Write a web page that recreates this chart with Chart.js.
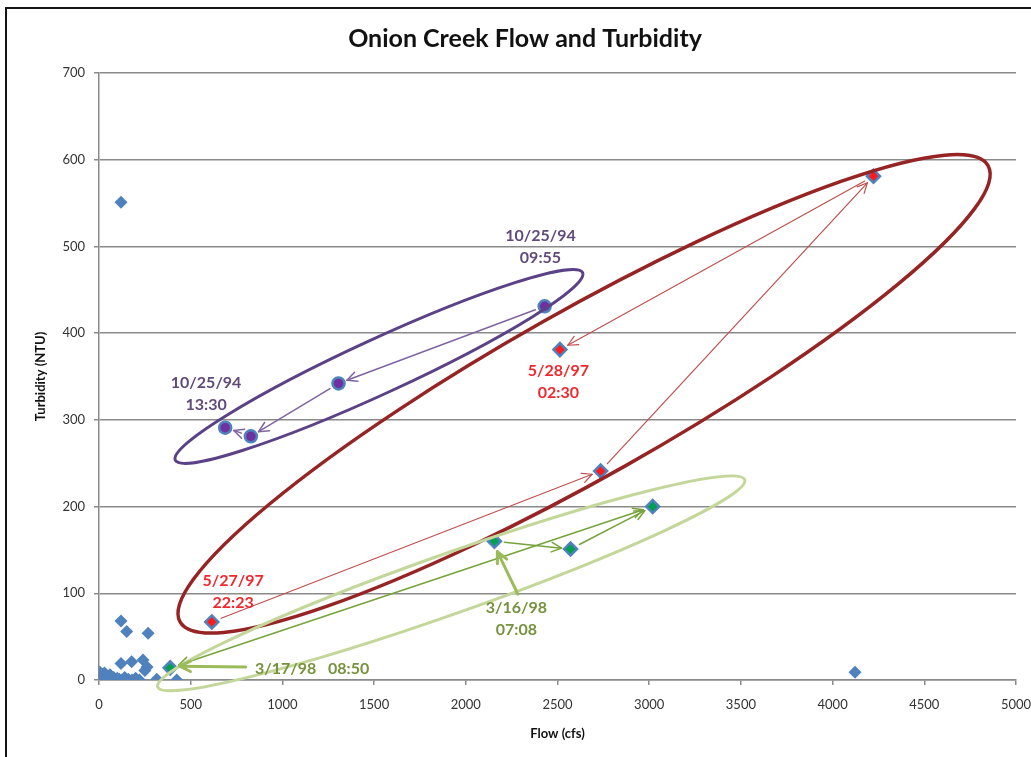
<!DOCTYPE html>
<html>
<head>
<meta charset="utf-8">
<script src="https://cdn.jsdelivr.net/npm/chart.js@4.4.1/dist/chart.umd.min.js"></script>
<style>
  html, body { margin: 0; padding: 0; background: #ffffff; }
  #wrap { position: relative; width: 1031px; height: 757px; overflow: hidden; }
  #frame { position: absolute; left: 5px; top: 7px; width: 1040px; height: 770px;
           border-top: 2px solid #151515; border-left: 2px solid #151515; pointer-events: none; }
  canvas { display: block; }
</style>
</head>
<body>
<div id="wrap">
  <canvas id="c" width="1031" height="757"></canvas>
  <div id="frame"></div>
</div>
<script>
// ---------------- DATA ----------------
const xTickValues = [0, 500, 1000, 1500, 2000, 2500, 3000, 3500, 4000, 4500, 5000];
const yTickValues = [0, 100, 200, 300, 400, 500, 600, 700];

// background observations (blue diamonds)
const bgFlow = [0, 8, 15, 22, 30, 38, 45, 55, 62, 70, 80, 90, 100, 110, 125, 140, 160, 180, 200, 220, 5, 30, 60,
                120, 178, 240, 262, 250, 315, 424, 120, 151, 268, 120, 4122];
const bgTurb = [0, 3, 1, 6, 0, 4, 2, 0, 5, 1, 3, 0, 2, 1, 0, 3, 1, 0, 2, 0, 9, 8, 6,
                19, 21, 23, 15, 11, 1, 0, 68, 56, 54, 551, 9];

// event 10/25/94 (purple circles)
const ev1994Flow = [2430, 1306, 828, 688];
const ev1994Turb = [431, 342, 281, 291];

// event 5/27/97 - 5/28/97 (red)
const ev1997Flow = [615, 2735, 4223, 2513];
const ev1997Turb = [67, 241, 581, 381];

// event 3/16/98 - 3/17/98 (green)
const ev1998Flow = [2156, 2571, 3019, 388];
const ev1998Turb = [160, 151, 200, 14];

const toPts = (xs, ys) => xs.map((v, i) => ({ x: v, y: ys[i] }));

// ---------------- ANNOTATIONS ----------------
const ellipses = [
  { tip1: [416, 253.5], tip2: [2637, 469.7], minor: 27.3, color: '#5B4286', width: 3 },
  { tip1: [442, 67],    tip2: [4848, 593],   minor: 83,   color: '#962424', width: 3.5 },
  { tip1: [320, -8],    tip2: [3521, 231],   minor: 30,   color: '#C4D79B', width: 3 }
];

const eventArrows = [
  { xs: ev1994Flow, ys: ev1994Turb, color: '#8064A2', width: 1.5, doubleLast: false },
  { xs: ev1997Flow, ys: ev1997Turb, color: '#C0504D', width: 1.2, doubleLast: false },
  { xs: ev1998Flow, ys: ev1998Turb, color: '#77A33B', width: 1.5, doubleLast: true }
];

const labelArrows = [
  { from: [2284, 99], to: [2172, 148], color: '#9BBB59', width: 3 },
  { from: [800, 15],  to: [440, 16],   color: '#9BBB59', width: 3 }
];

const textLabels = [
  { x: 2407, y: 512, lines: ['10/25/94', '09:55'], color: '#604A7B', align: 'center' },
  { x: 584,  y: 343, lines: ['10/25/94', '13:30'], color: '#604A7B', align: 'center' },
  { x: 2505, y: 356, lines: ['5/28/97', '02:30'],  color: '#F0282D', align: 'center' },
  { x: 731,  y: 114, lines: ['5/27/97', '22:23'],  color: '#F0282D', align: 'center' },
  { x: 2276, y: 83,  lines: ['3/16/98', '07:08'],  color: '#76923C', align: 'center' },
  { x: 851,  y: 13,  lines: ['3/17/98   08:50'],   color: '#76923C', align: 'left' }
];

function drawHead(ctx, x0, y0, x1, y1, len) {
  const ang = Math.atan2(y1 - y0, x1 - x0);
  const a = Math.PI / 7;
  ctx.beginPath();
  ctx.moveTo(x1 - len * Math.cos(ang - a), y1 - len * Math.sin(ang - a));
  ctx.lineTo(x1, y1);
  ctx.lineTo(x1 - len * Math.cos(ang + a), y1 - len * Math.sin(ang + a));
  ctx.stroke();
}

function shorten(x0, y0, x1, y1, s0, s1) {
  const d = Math.hypot(x1 - x0, y1 - y0);
  const ux = (x1 - x0) / d, uy = (y1 - y0) / d;
  return [x0 + ux * s0, y0 + uy * s0, x1 - ux * s1, y1 - uy * s1];
}

const annotPlugin = {
  id: 'annot',
  afterDatasetsDraw(chart) {
    const { ctx } = chart;
    const xs = chart.scales.x, ys = chart.scales.y;
    const px = v => xs.getPixelForValue(v);
    const py = v => ys.getPixelForValue(v);
    ctx.save();
    ctx.lineCap = 'round';
    ctx.lineJoin = 'round';

    eventArrows.forEach(ev => {
      ctx.strokeStyle = ev.color;
      ctx.lineWidth = ev.width;
      for (let i = 0; i < ev.xs.length - 1; i++) {
        const [a, b, c, d] = shorten(px(ev.xs[i]), py(ev.ys[i]), px(ev.xs[i + 1]), py(ev.ys[i + 1]), 10, 9);
        ctx.beginPath(); ctx.moveTo(a, b); ctx.lineTo(c, d); ctx.stroke();
        drawHead(ctx, a, b, c, d, 11);
        if (ev.doubleLast && i === ev.xs.length - 2) drawHead(ctx, c, d, a, b, 11);
      }
    });

    ellipses.forEach(e => {
      const x1 = px(e.tip1[0]), y1 = py(e.tip1[1]);
      const x2 = px(e.tip2[0]), y2 = py(e.tip2[1]);
      const cx = (x1 + x2) / 2, cy = (y1 + y2) / 2;
      const a = Math.hypot(x2 - x1, y2 - y1) / 2;
      const rot = Math.atan2(y2 - y1, x2 - x1);
      ctx.strokeStyle = e.color;
      ctx.lineWidth = e.width;
      ctx.beginPath();
      ctx.ellipse(cx, cy, a, e.minor, rot, 0, Math.PI * 2);
      ctx.stroke();
    });

    labelArrows.forEach(l => {
      const a = px(l.from[0]), b = py(l.from[1]), c = px(l.to[0]), d = py(l.to[1]);
      ctx.strokeStyle = l.color;
      ctx.lineWidth = l.width;
      ctx.beginPath(); ctx.moveTo(a, b); ctx.lineTo(c, d); ctx.stroke();
      drawHead(ctx, a, b, c, d, 12);
    });

    ctx.font = 'bold 16px Lato, "Liberation Sans", sans-serif';
    ctx.textBaseline = 'middle';
    textLabels.forEach(t => {
      ctx.fillStyle = t.color;
      ctx.textAlign = t.align;
      t.lines.forEach((ln, i) => ctx.fillText(ln, px(t.x), py(t.y) + i * 22));
    });
    ctx.restore();
  }
};

// ---------------- CHART ----------------
const gridGray = '#8A8A8A';
const fam = 'Lato, "Liberation Sans", sans-serif';
const tickFont = { family: fam, size: 13 };

new Chart(document.getElementById('c'), {
  type: 'scatter',
  data: {
    datasets: [
      { label: 'All', data: toPts(bgFlow, bgTurb), pointStyle: 'rectRot', pointRadius: 6.5,
        backgroundColor: '#4F81BD', borderColor: '#4F81BD', borderWidth: 0 },
      { label: '10/25/94', data: toPts(ev1994Flow, ev1994Turb), pointStyle: 'circle', pointRadius: 6,
        backgroundColor: '#7030A0', borderColor: '#4F81BD', borderWidth: 2.5 },
      { label: '5/27/97', data: toPts(ev1997Flow, ev1997Turb), pointStyle: 'rectRot', pointRadius: 6.5,
        backgroundColor: '#FF1A1A', borderColor: '#4F81BD', borderWidth: 2.5 },
      { label: '3/16/98', data: toPts(ev1998Flow, ev1998Turb), pointStyle: 'rectRot', pointRadius: 6.5,
        backgroundColor: '#00A050', borderColor: '#4F81BD', borderWidth: 2.5 }
    ]
  },
  options: {
    responsive: false,
    animation: false,
    layout: { padding: { left: 19, right: 0, top: 14, bottom: 0 } },
    plugins: {
      legend: { display: false },
      tooltip: { enabled: false },
      title: {
        display: true,
        text: 'Onion Creek Flow and Turbidity',
        color: '#111111',
        font: { family: fam, size: 25, weight: 'bold' },
        padding: { top: 10, bottom: 19 }
      }
    },
    scales: {
      x: {
        type: 'linear', min: 0, max: 5000,
        afterBuildTicks: s => { s.ticks = xTickValues.map(v => ({ value: v })); },
        afterFit: s => { s.height = 77; s.paddingRight = 15; s.paddingLeft = 0; },
        ticks: { color: '#333333', font: tickFont, padding: 12, maxRotation: 0, callback: v => String(v) },
        grid: { display: true, drawOnChartArea: false, drawTicks: true, tickLength: 5, color: gridGray, lineWidth: 1.5 },
        border: { display: true, color: gridGray, width: 1.5 },
        title: { display: true, text: 'Flow (cfs)', color: '#111111',
                 font: { family: fam, size: 13, weight: 'bold' },
                 padding: { top: 0, bottom: 15 } }
      },
      y: {
        type: 'linear', min: 0, max: 700,
        afterBuildTicks: s => { s.ticks = yTickValues.map(v => ({ value: v })); },
        afterFit: s => { s.width = 80; },
        ticks: { color: '#333333', font: tickFont, padding: 9, callback: v => String(v) },
        grid: { display: true, drawOnChartArea: true, drawTicks: true, tickLength: 5, color: gridGray, lineWidth: 1.5 },
        border: { display: true, color: gridGray, width: 1.5 },
        title: { display: true, text: 'Turbidity (NTU)', color: '#111111',
                 font: { family: fam, size: 13, weight: 'bold' },
                 padding: { top: 14, bottom: 0 } }
      }
    }
  },
  plugins: [annotPlugin]
});
</script>
</body>
</html>
